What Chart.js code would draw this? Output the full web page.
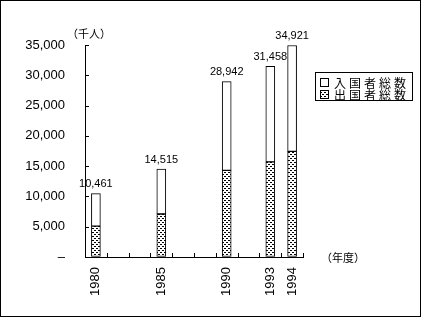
<!DOCTYPE html>
<html><head><meta charset="utf-8">
<script src="https://cdn.jsdelivr.net/npm/chart.js@4.4.1/dist/chart.umd.min.js"></script>
<style>html,body{margin:0;padding:0;background:#fff;} #wrap{width:422px;height:318px;}</style>
</head><body><div id="wrap"><canvas id="c" width="422" height="318"></canvas></div>
<script>
// ---- data ----
const slotLabels = ['1980', '', '', '1985', '', '', '1990', '', '1993', '1994'];
const years = ['1980', '1985', '1990', '1993', '1994'];
const totals = [10461, 14515, 28942, 31458, 34921];
const outbound = [5100, 7100, 14300, 15700, 17450];
const inbound = [5361, 7415, 14642, 15758, 17471];
const seriesNames = ['入国者総数', '出国者総数'];
const yUnit = '（千人）';
const xUnit = '（年度）';
const yMax = 35000;
const yStep = 5000;

const JP = '"Noto Sans CJK JP", "Noto Sans", sans-serif';
const NUM = '"Liberation Sans", Arial, sans-serif';

function makePattern() {
  const c = document.createElement('canvas');
  c.width = 4; c.height = 4;
  const g = c.getContext('2d');
  g.fillStyle = '#fff'; g.fillRect(0, 0, 4, 4);
  g.fillStyle = '#000';
  g.fillRect(0, 0, 2, 1);
  g.fillRect(2, 2, 2, 1);
  return g.createPattern(c, 'repeat');
}
const dotPattern = makePattern();

function onSlots(values) {
  return slotLabels.map(l => { const i = years.indexOf(l); return l && i >= 0 ? values[i] : null; });
}

const extras = {
  id: 'extras',
  afterDatasetsDraw(chart) {
    const ctx = chart.ctx, xs = chart.scales.x, ys = chart.scales.y;
    ctx.save();
    // inner ticks
    ctx.strokeStyle = '#000'; ctx.lineWidth = 1; ctx.beginPath();
    ys.ticks.forEach(t => {
      const py = Math.round(ys.getPixelForValue(t.value)) + 0.5;
      ctx.moveTo(xs.left, py); ctx.lineTo(xs.left + 4, py);
    });
    const half = (xs.getPixelForValue(1) - xs.getPixelForValue(0)) / 2;
    for (let i = 0; i < slotLabels.length; i++) {
      const px = Math.round(xs.getPixelForValue(i) + half) + 0.5;
      ctx.moveTo(px, ys.bottom); ctx.lineTo(px, ys.bottom - 4);
    }
    ctx.stroke();
    // total labels
    const meta = chart.getDatasetMeta(1);
    ctx.fillStyle = '#000';
    ctx.font = '11px ' + NUM;
    ctx.textAlign = 'center'; ctx.textBaseline = 'bottom';
    meta.data.forEach((el, i) => {
      const idx = years.indexOf(slotLabels[i]);
      if (!slotLabels[i] || idx < 0) return;
      ctx.fillText(totals[idx].toLocaleString('en-US'), el.x, el.y - 4);
    });
    // unit labels
    ctx.font = '11px ' + JP;
    ctx.textAlign = 'center'; ctx.textBaseline = 'middle';
    ctx.fillText(yUnit, 89, 34);
    ctx.textAlign = 'left';
    ctx.fillText(xUnit, 321, 258);
    // legend
    ctx.lineWidth = 1;
    ctx.strokeRect(315.5, 72.5, 97, 28);
    const order = [1, 0];
    ctx.font = '12px ' + JP;
    ctx.letterSpacing = '3px';
    order.forEach((di, r) => {
      const ds = chart.data.datasets[di];
      const y = 78 + r * 12;
      ctx.fillStyle = ds.backgroundColor;
      ctx.fillRect(320, y, 9, 9);
      ctx.strokeRect(320.5, y + 0.5, 8, 8);
      ctx.fillStyle = '#000';
      ctx.textAlign = 'left'; ctx.textBaseline = 'middle';
      ctx.fillText(ds.label, 334, y + 5);
    });
    ctx.letterSpacing = '0px';
    ctx.restore();
  },
  afterDraw(chart) {
    const ctx = chart.ctx;
    ctx.save();
    ctx.strokeStyle = '#000'; ctx.lineWidth = 1;
    ctx.strokeRect(0.5, 0.5, 420, 316);
    ctx.restore();
  }
};

Chart.defaults.color = '#000';
new Chart(document.getElementById('c'), {
  type: 'bar',
  data: {
    labels: slotLabels,
    datasets: [
      { label: seriesNames[1], data: onSlots(outbound), backgroundColor: dotPattern, borderColor: '#000', borderWidth: 1, borderSkipped: false },
      { label: seriesNames[0], data: onSlots(inbound), backgroundColor: '#fff', borderColor: '#000', borderWidth: 1, borderSkipped: false }
    ]
  },
  options: {
    responsive: false,
    animation: false,
    devicePixelRatio: 1,
    layout: { padding: { top: 45, right: 119, left: 0, bottom: 0 } },
    plugins: { legend: { display: false }, tooltip: { enabled: false } },
    datasets: { bar: { barThickness: 9 } },
    scales: {
      x: {
        stacked: true,
        offset: true,
        grid: { display: true, drawOnChartArea: false, drawTicks: false, offset: true },
        border: { display: true, color: '#000', width: 1 },
        ticks: { autoSkip: false, minRotation: 90, maxRotation: 90, padding: 10, font: { family: NUM, size: 13 } },
        afterFit(s) { s.height = 61; }
      },
      y: {
        stacked: true,
        min: 0, max: yMax,
        grid: { display: true, drawOnChartArea: false, drawTicks: false },
        border: { display: true, color: '#000', width: 1 },
        ticks: { stepSize: yStep, padding: 20, font: { family: NUM, size: 13 },
          callback: v => v === 0 ? '–' : Number(v).toLocaleString('en-US') },
        afterFit(s) { s.width = 85; }
      }
    }
  },
  plugins: [extras]
});
</script></body></html>
